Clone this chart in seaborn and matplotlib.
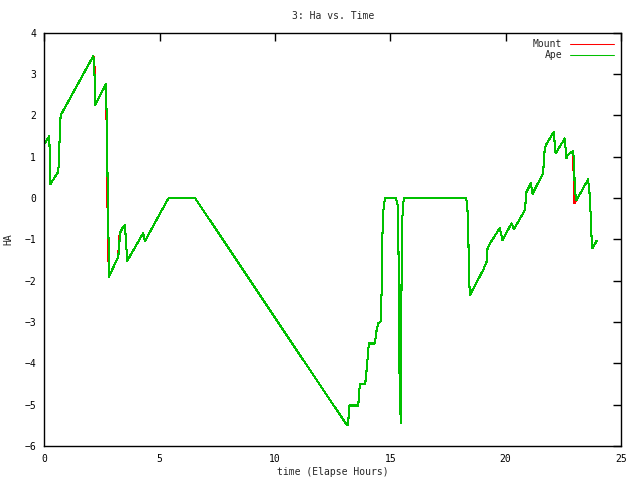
import pandas as pd
import matplotlib
matplotlib.use("Agg")
import matplotlib.pyplot as plt
import seaborn as sns

# ── data (hours, HA) ──
time = [0.00, 0.21, 0.25, 0.60, 0.63, 0.67, 0.70, 2.12, 2.16, 2.19, 2.20, 2.67,
        2.70, 2.72, 2.74, 2.76, 2.78, 2.79, 2.80, 3.20, 3.24, 3.27, 3.42, 3.49,
        3.59, 4.28, 4.36, 4.43, 5.37, 5.44, 6.53, 13.11, 13.17, 13.22, 13.61, 13.68,
        13.90, 13.94, 14.07, 14.33, 14.41, 14.48, 14.58, 14.62, 14.65, 14.69, 14.74, 14.78,
        15.24, 15.32, 15.34, 15.37, 15.38, 15.42, 15.45, 15.46, 15.49, 15.52, 15.56, 15.60,
        18.27, 18.33, 18.38, 18.41, 18.45, 19.03, 19.18, 19.22, 19.32, 19.75, 19.87, 20.26,
        20.36, 20.84, 20.91, 21.10, 21.17, 21.63, 21.70, 21.78, 22.09, 22.17, 22.57, 22.64,
        22.70, 22.93, 22.98, 23.00, 23.08, 23.58, 23.66, 23.73, 23.76, 23.95]

ape = [1.32, 1.50, 0.33, 0.64, 1.00, 1.66, 2.00, 3.44, 3.16, 2.63, 2.25, 2.76,
       1.87, 1.58, 0.12, -0.73, -1.00, -1.58, -1.90, -1.42, -1.20, -0.85, -0.69, -0.65,
       -1.52, -0.85, -1.04, -0.97, -0.01, 0.00, 0.00, -5.49, -5.49, -5.02, -5.02, -4.50,
       -4.50, -4.38, -3.52, -3.52, -3.19, -3.03, -2.99, -2.35, -1.06, -0.37, -0.11, 0.00,
       0.00, -0.17, -0.53, -1.94, -4.24, -4.24, -5.45, -4.24, -1.94, -0.53, -0.13, 0.00,
       0.00, -0.09, -0.65, -1.78, -2.35, -1.74, -1.54, -1.22, -1.10, -0.73, -1.02, -0.61,
       -0.76, -0.29, 0.15, 0.36, 0.10, 0.60, 1.20, 1.31, 1.60, 1.08, 1.44, 0.96,
       1.04, 1.14, 0.84, 0.19, -0.05, 0.45, 0.03, -0.94, -1.22, -1.04]

mount = [1.32, 1.50, 0.33, 0.64, 1.00, 1.66, 2.00, 3.44, 3.30, 2.90, 2.25, 2.76,
         1.55, 1.20, -0.75, -1.00, -1.60, -1.90, -1.90, -1.42, -0.95, -0.85, -0.69, -0.65,
         -1.52, -0.85, -1.04, -0.97, -0.01, 0.00, 0.00, -5.49, -5.49, -5.02, -5.02, -4.50,
         -4.50, -4.38, -3.52, -3.52, -3.19, -3.03, -2.99, -2.35, -1.06, -0.37, -0.11, 0.00,
         0.00, -0.17, -0.53, -1.94, -4.24, -4.24, -5.45, -4.24, -1.94, -0.53, -0.13, 0.00,
         0.00, -0.09, -0.65, -1.78, -2.35, -1.74, -1.54, -1.22, -1.10, -0.73, -1.02, -0.61,
         -0.76, -0.29, 0.15, 0.36, 0.10, 0.60, 1.20, 1.31, 1.60, 1.08, 1.44, 0.96,
         1.04, 1.14, -0.12, -0.12, -0.05, 0.45, 0.03, -0.94, -1.22, -1.04]

x_ticks = [0, 5, 10, 15, 20, 25]
y_ticks = [-6, -5, -4, -3, -2, -1, 0, 1, 2, 3, 4]

df = pd.concat([
    pd.DataFrame({"time": time, "ha": mount, "series": "Mount"}),
    pd.DataFrame({"time": time, "ha": ape, "series": "Ape"}),
], ignore_index=True)

# ── plot ──
sns.set_style("white")
plt.rcParams["font.family"] = ["DejaVu Sans Mono", "DejaVu Sans"]

fig = plt.figure(figsize=(6.4, 4.8), dpi=100)
ax = fig.add_axes([0.0695, 0.0708, 0.9005, 0.8611])

sns.lineplot(data=df, x="time", y="ha", hue="series",
             hue_order=["Mount", "Ape"],
             palette={"Mount": "#ff0000", "Ape": "#00c000"},
             sort=False, estimator=None, linewidth=0.75, antialiased=False, ax=ax)

ax.set_xlim(0, 25)
ax.set_ylim(-6, 4)
ax.set_xticks(x_ticks)
ax.set_yticks(y_ticks)
ax.tick_params(direction="in", length=6, width=1, top=True, right=True,
               labelsize=7, colors="black", pad=6)
for s in ax.spines.values():
    s.set_color("black")
    s.set_linewidth(1)

ax.set_title("3: Ha vs. Time", fontsize=7, pad=10)
ax.set_xlabel("time (Elapse Hours)", fontsize=7, labelpad=2)
ax.set_ylabel("HA", fontsize=7, labelpad=8)

leg = ax.legend(loc="upper right", frameon=False, fontsize=7, markerfirst=False,
                handlelength=4.5, handletextpad=0.8, labelspacing=0.1,
                borderaxespad=0.3)

fig.savefig("out.png", dpi=100)
